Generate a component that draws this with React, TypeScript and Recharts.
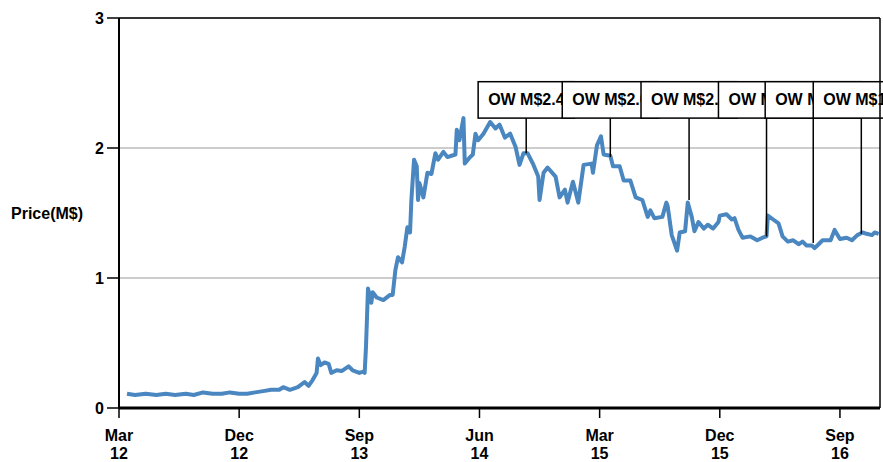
import { LineChart, Line, XAxis, YAxis, CartesianGrid, ReferenceLine, ReferenceArea } from 'recharts';

// months since Mar 2012
const monthIdx = [
  0.6, 1.2, 2.0, 2.8, 3.5, 4.2, 5.0, 5.6, 6.3, 7.0, 7.7, 8.3, 9.0, 9.6, 10.2, 10.8, 11.4, 12.0, 12.3, 12.8,
  13.4, 13.9, 14.2, 14.5, 14.8, 14.9, 15.1, 15.4, 15.7, 15.9, 16.3, 16.7, 17.2, 17.5, 18.0, 18.3, 18.4, 18.5,
  18.65, 18.9, 19.0, 19.3, 19.8, 20.3, 20.5, 20.7, 20.9, 21.2, 21.4, 21.6, 21.8, 21.9, 22.1, 22.3, 22.4, 22.5,
  22.8, 23.1, 23.4, 23.7, 23.9, 24.3, 24.6, 25.2, 25.3, 25.5, 25.8, 25.9, 26.3, 26.5, 26.7, 26.9, 27.3, 27.8,
  28.2, 28.5, 28.9, 29.3, 29.7, 30.0, 30.3, 30.6, 31.0, 31.4, 31.5, 31.8, 32.1, 32.7, 33.0, 33.4, 33.6, 34.0,
  34.4, 34.8, 35.4, 35.5, 35.8, 36.1, 36.3, 36.8, 37.0, 37.5, 37.8, 38.3, 38.7, 39.2, 39.6, 39.8, 40.1, 40.7,
  41.0, 41.1, 41.4, 41.8, 42.0, 42.4, 42.6, 42.9, 43.1, 43.4, 43.8, 44.1, 44.5, 44.9, 45.0, 45.5, 45.9, 46.1,
  46.4, 46.7, 47.3, 47.8, 48.2, 48.5, 48.6, 49.0, 49.4, 49.7, 50.1, 50.5, 50.9, 51.2, 51.5, 51.9, 52.1, 52.4,
  52.7, 53.3, 53.6, 54.0, 54.5, 54.9, 55.3, 55.7, 56.0, 56.4, 56.6, 56.9,
];
const prices = [
  0.11, 0.10, 0.11, 0.10, 0.11, 0.10, 0.11, 0.10, 0.12, 0.11, 0.11, 0.12, 0.11, 0.11, 0.12, 0.13, 0.14, 0.14, 0.16, 0.14,
  0.16, 0.20, 0.17, 0.215, 0.27, 0.38, 0.33, 0.35, 0.34, 0.27, 0.29, 0.285, 0.32, 0.29, 0.27, 0.28, 0.27, 0.47,
  0.92, 0.81, 0.89, 0.85, 0.83, 0.87, 0.87, 1.06, 1.16, 1.12, 1.24, 1.39, 1.35, 1.6, 1.91, 1.86, 1.6, 1.73,
  1.62, 1.81, 1.8, 1.96, 1.91, 1.97, 1.93, 1.95, 2.14, 2.06, 2.23, 1.88, 1.93, 1.95, 2.11, 2.06, 2.11, 2.2,
  2.15, 2.18, 2.08, 2.11, 2.01, 1.87, 1.96, 1.96, 1.88, 1.78, 1.6, 1.81, 1.85, 1.78, 1.62, 1.68, 1.58, 1.74,
  1.58, 1.87, 1.88, 1.81, 2.02, 2.09, 1.95, 1.94, 1.86, 1.86, 1.75, 1.75, 1.62, 1.6, 1.47, 1.52, 1.46, 1.47,
  1.58, 1.55, 1.33, 1.21, 1.35, 1.36, 1.58, 1.47, 1.36, 1.43, 1.38, 1.41, 1.38, 1.43, 1.48, 1.49, 1.45, 1.46,
  1.37, 1.31, 1.32, 1.29, 1.31, 1.32, 1.48, 1.45, 1.42, 1.32, 1.28, 1.29, 1.26, 1.28, 1.25, 1.25, 1.23, 1.26,
  1.29, 1.29, 1.37, 1.3, 1.31, 1.29, 1.33, 1.35, 1.34, 1.33, 1.35, 1.34,
];

const tickMonths = [0, 9, 18, 27, 36, 45, 54];
const tickMonthNames = ['Mar', 'Dec', 'Sep', 'Jun', 'Mar', 'Dec', 'Sep'];
const tickYears = ['12', '12', '13', '14', '15', '15', '16'];

const noteMonths = [30.5, 36.8, 42.7, 48.5, 52.0, 55.6];
const notePrices = [1.96, 1.93, 1.6, 1.32, 1.27, 1.34];
const noteLabels = ['OW M$2.45', 'OW M$2.05', 'OW M$2.15', 'OW M$1.85', 'OW M$1.80', 'OW M$1.70'];

const data = monthIdx.map((m, i) => ({ m, price: prices[i] }));

// box placement in axis units
const BOX_LOW = 2.23;
const BOX_HIGH = 2.51;
const BOX_HALF = 3.6;

const FONT = '"Liberation Sans", Arial, sans-serif';

const MonthTick = (props: any) => {
  const { x, y, payload } = props;
  const i = tickMonths.indexOf(payload.value);
  return (
    <text x={x} y={y} textAnchor="middle" fontFamily={FONT} fontWeight="bold" fontSize={16} fill="#000">
      <tspan x={x} dy={21}>{tickMonthNames[i]}</tspan>
      <tspan x={x} dy={18}>{tickYears[i]}</tspan>
    </text>
  );
};

// box + text drawn together so the next box covers any overflow
const noteBox = (label: string) => (p: any) => (
  <g>
    <rect x={p.x} y={p.y} width={p.width} height={p.height} fill="#fff" stroke="#000" strokeWidth={1.5} />
    <text
      x={p.x + 10}
      y={p.y + p.height / 2}
      dominantBaseline="central"
      fontFamily={FONT}
      fontWeight="bold"
      fontSize={16}
      fill="#000"
    >
      {label}
    </text>
  </g>
);

export default function App() {
  return (
    <div style={{ width: 883, height: 462, background: '#fff' }}>
      <style>{'body{margin:0}'}</style>
      <LineChart width={883} height={462} data={data} margin={{ top: 18, right: 3, bottom: 0, left: 0 }}>
        <CartesianGrid horizontal vertical={false} stroke="#bdbdbd" strokeWidth={1.5} />
        <XAxis
          dataKey="m"
          type="number"
          domain={[0, 57]}
          ticks={tickMonths}
          height={54}
          tick={<MonthTick />}
          tickSize={10}
          tickLine={{ stroke: '#000', strokeWidth: 1.5 }}
          axisLine={{ stroke: '#000', strokeWidth: 3 }}
        />
        <YAxis
          type="number"
          domain={[0, 3]}
          ticks={[0, 1, 2, 3]}
          width={119}
          tickSize={12}
          tickMargin={3}
          tick={{ fill: '#000', fontSize: 16, fontWeight: 'bold', fontFamily: FONT }}
          tickLine={{ stroke: '#000', strokeWidth: 1.5 }}
          axisLine={{ stroke: '#000', strokeWidth: 2 }}
          label={{
            value: 'Price(M$)',
            position: 'insideLeft',
            offset: 11,
            angle: 0,
            style: { fill: '#000', fontSize: 16, fontWeight: 'bold', fontFamily: FONT },
          }}
        />
        <ReferenceLine y={3} stroke="#000" strokeWidth={1.5} />
        <ReferenceLine x={57} stroke="#000" strokeWidth={1.5} />
        <Line
          type="linear"
          dataKey="price"
          stroke="#4a86c0"
          strokeWidth={4}
          strokeLinejoin="round"
          dot={false}
          isAnimationActive={false}
        />
        {noteMonths.map((m, i) => (
          <ReferenceLine
            key={'l' + i}
            segment={[{ x: m, y: notePrices[i] }, { x: m, y: BOX_LOW }]}
            stroke="#000"
            strokeWidth={1.5}
            ifOverflow="visible"
          />
        ))}
        {noteMonths.map((m, i) => (
          <ReferenceArea
            key={'b' + i}
            x1={m - BOX_HALF}
            x2={m + BOX_HALF}
            y1={BOX_LOW}
            y2={BOX_HIGH}
            ifOverflow="visible"
            shape={noteBox(noteLabels[i])}
          />
        ))}
      </LineChart>
    </div>
  );
}
